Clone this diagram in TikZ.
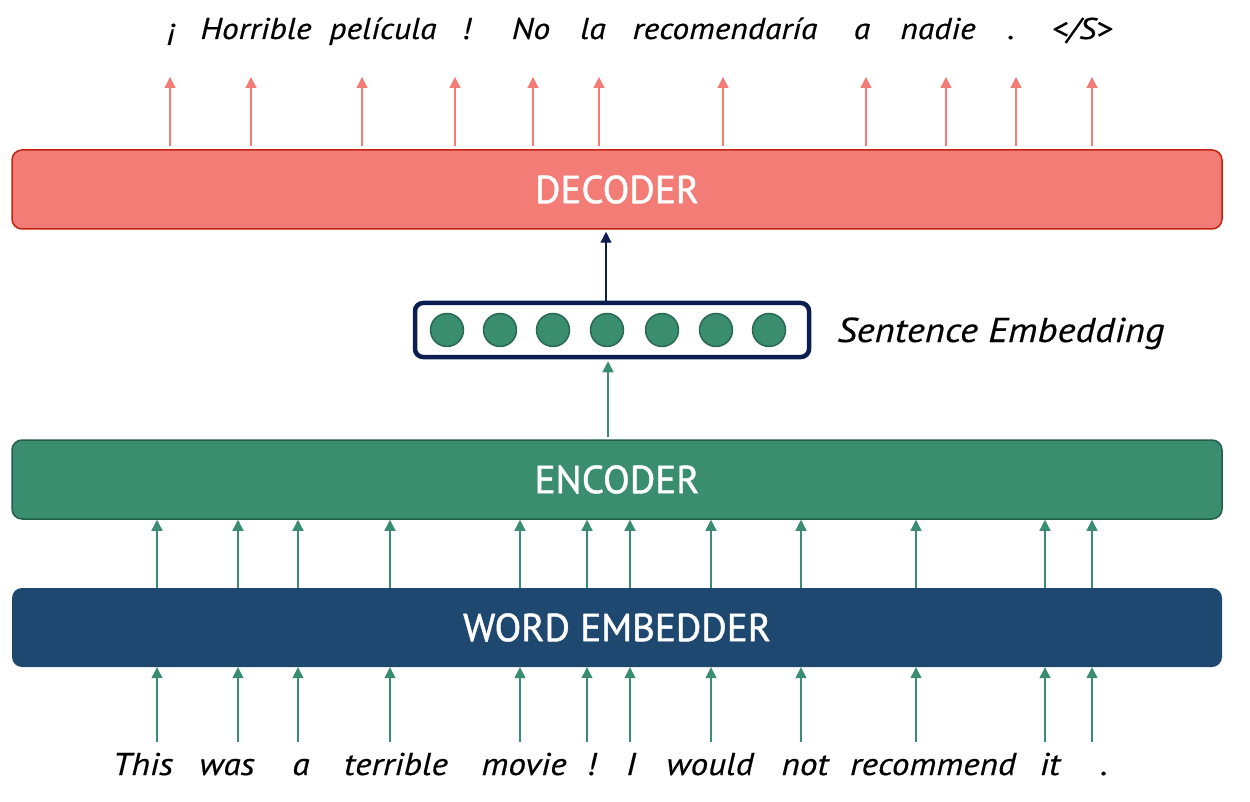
\documentclass[tikz,border=0pt]{standalone}
\usepackage{fontspec}
\setmainfont{PT Sans}
\newfontfamily\wfont[FakeStretch=1.12, FakeBold=0.4]{PT Sans}
\newfontfamily\lfont[FakeBold=1.2]{PT Sans}
\usetikzlibrary{arrows.meta}
\definecolor{decfill}{RGB}{243,124,119}
\definecolor{decline}{RGB}{190,35,15}
\definecolor{encfill}{RGB}{58,141,111}
\definecolor{encline}{RGB}{35,95,72}
\definecolor{embfill}{RGB}{31,72,112}
\definecolor{navy}{RGB}{12,30,80}
\definecolor{dotline}{RGB}{42,106,80}
\tikzset{
  layer/.style={rectangle, rounded corners=10pt, minimum width=1210pt, minimum height=79pt, inner sep=0pt, text=white, font=\lfont\fontsize{39}{45}\selectfont},
  redarrow/.style={draw=decfill, line width=1.3pt, -{Triangle[width=11pt,length=11pt]}},
  greenarrow/.style={draw=encfill, line width=1.3pt, -{Triangle[width=11pt,length=11pt]}},
  navyarrow/.style={draw=navy, line width=1.3pt, -{Triangle[width=11pt,length=11pt]}},
  topword/.style={anchor=base, inner sep=0pt, font=\wfont\fontsize{30}{36}\selectfont\itshape},
  botword/.style={anchor=base, inner sep=0pt, font=\wfont\fontsize{31.5}{37}\selectfont\itshape},
  dot/.style={circle, minimum size=33pt, inner sep=0pt, fill=encfill, draw=dotline, line width=1.5pt},
}
\begin{document}
\begin{tikzpicture}[x=1pt,y=-1pt]
\useasboundingbox (0,0) rectangle (1250,802);
% layers
\node[layer, fill=decfill, draw=decline, line width=1.5pt] (dec) at (617,189.5) {DECODER};
\node[layer, fill=encfill, draw=encline, line width=1.5pt] (enc) at (617,479.5) {ENCODER};
\node[layer, fill=embfill] (emb) at (617,627.5) {WORD EMBEDDER};
% sentence embedding
\node[rectangle, rounded corners=8pt, draw=navy, line width=4.5pt, minimum width=394pt, minimum height=54pt, inner sep=0pt] (sent) at (612,330) {};
\foreach \x [count=\i] in {447,500,553,607,662,716,769}
  \node[dot] (d\i) at (\x,330) {};
\node[anchor=base west, inner sep=0pt, font=\wfont\fontsize{34.5}{40}\selectfont\itshape] (lbl) at (837,342) {Sentence Embedding};
\coordinate (up) at (606,0);
\coordinate (mid) at (608,0);
\draw[navyarrow] (sent.north -| up) -- ([yshift=-2pt]dec.south -| up);
\draw[greenarrow] ([yshift=2pt]enc.north -| mid) -- ([yshift=-2pt]sent.south -| mid);
% output words
\foreach \x/\w [count=\i] in {172/¡, 256/Horrible, 383/película, 466/!, 531/No, 593/la, 725/recomendaría, 862/a, 938/nadie, 1011/., 1082/{</S>}}
  \node[topword] (o\i) at (\x,39) {\w};
\foreach \x [count=\i] in {170,251,362,455,533,599,723,866,946,1016,1092} {
  \coordinate (ot\i) at (\x,77);
  \draw[redarrow] ([yshift=3pt]dec.north -| ot\i) -- (ot\i);
}
% input words
\foreach \x/\w [count=\i] in {143/This, 227/was, 301/a, 396/terrible, 524/movie, 591/!, 631/I, 710/would, 805/not, 933/recommend, 1050/it, 1104/.}
  \node[botword] (w\i) at (\x,775) {\w};
\foreach \x [count=\i] in {157,238,298,390,520,587,630,711,801,916,1045,1092} {
  \coordinate (ib\i) at (\x,742);
  \draw[greenarrow] (ib\i) -- (emb.south -| ib\i);
  \draw[greenarrow] (emb.north -| ib\i) -- (enc.south -| ib\i);
}
\end{tikzpicture}
\end{document}
